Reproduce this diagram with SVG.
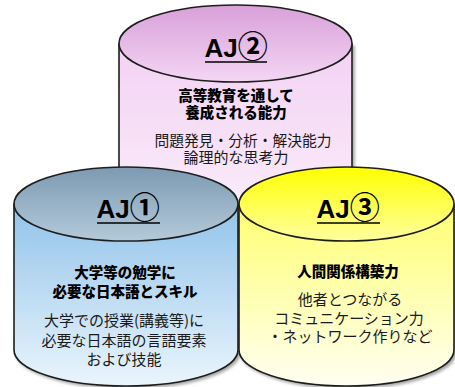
<svg xmlns="http://www.w3.org/2000/svg" width="455" height="387" viewBox="0 0 455 387">
<defs>
<linearGradient id="pinkTop" x1="0" y1="0" x2="0" y2="1"><stop offset="0" stop-color="#d8a0d8"/><stop offset="1" stop-color="#f4d6f4"/></linearGradient>
<linearGradient id="pinkBody" x1="0" y1="0" x2="0" y2="1"><stop offset="0" stop-color="#f3d2f3"/><stop offset="1" stop-color="#fbeffb"/></linearGradient>
<linearGradient id="blueTop" x1="0" y1="0" x2="0" y2="1"><stop offset="0" stop-color="#7d9ab2"/><stop offset="1" stop-color="#b4cada"/></linearGradient>
<linearGradient id="blueBody" x1="0" y1="0" x2="0" y2="1"><stop offset="0" stop-color="#92c3ea"/><stop offset="1" stop-color="#eaf5fc"/></linearGradient>
<linearGradient id="yelTop" x1="0" y1="0" x2="0" y2="1"><stop offset="0" stop-color="#ffff00"/><stop offset="1" stop-color="#ffffa0"/></linearGradient>
<linearGradient id="yelBody" x1="0" y1="0" x2="0" y2="1"><stop offset="0" stop-color="#ffff70"/><stop offset="1" stop-color="#fffff2"/></linearGradient>
<filter id="sh" x="-10%" y="-10%" width="120%" height="120%"><feDropShadow dx="2" dy="2" stdDeviation="1.5" flood-color="#000" flood-opacity="0.35"/></filter>
</defs>
<style>
.ol{stroke:#1e1e1e;stroke-width:1.6}
.aj{font-family:"Liberation Sans","Noto Sans CJK JP",sans-serif;font-weight:bold;font-size:26px;fill:#000;text-anchor:middle}
.cd{font-family:"Noto Sans CJK JP",sans-serif;font-size:30px;font-weight:bold}
.b{font-family:"Noto Sans CJK JP",sans-serif;font-weight:900;font-size:14.5px;fill:#000;text-anchor:middle}
.r{font-family:"Noto Sans CJK JP",sans-serif;font-size:15px;fill:#1a1a1a;text-anchor:middle}
.ul{stroke:#000;stroke-width:1.6}
</style>
<rect width="455" height="387" fill="#ffffff"/>
<g id="aj2">
<path class="ol" filter="url(#sh)" d="M119,43.5 L119,230 L352,230 L352,43.5" fill="url(#pinkBody)"/>
<ellipse class="ol" cx="235.5" cy="43.5" rx="116.5" ry="38.5" fill="url(#pinkTop)"/>
<text class="aj" x="236" y="57">AJ<tspan class="cd">②</tspan></text>
<line class="ul" x1="205" y1="62" x2="267" y2="62"/>
<text class="b" x="236" y="101">高等教育を通して</text>
<text class="b" x="236" y="118">養成される能力</text>
<text class="r" x="243" y="146" textLength="177" lengthAdjust="spacingAndGlyphs">問題発見・分析・解決能力</text>
<text class="r" x="236" y="163">論理的な思考力</text>
</g>
<g id="aj1">
<path class="ol" filter="url(#sh)" d="M14,204 L14,350 A112,36 0 0 0 238,350 L238,204 Z" fill="url(#blueBody)"/>
<ellipse class="ol" cx="126" cy="204" rx="112" ry="37" fill="url(#blueTop)"/>
<text class="aj" x="128" y="218">AJ<tspan class="cd">①</tspan></text>
<line class="ul" x1="97" y1="223" x2="160" y2="223"/>
<text class="b" x="125" y="278">大学等の勉学に</text>
<text class="b" x="125" y="297">必要な日本語とスキル</text>
<text class="r" x="124" y="326">大学での授業(講義等)に</text>
<text class="r" x="124" y="346">必要な日本語の言語要素</text>
<text class="r" x="124" y="365">および技能</text>
</g>
<g id="aj3">
<path class="ol" filter="url(#sh)" d="M239,204 L239,350 A107.5,36 0 0 0 454,350 L454,204 Z" fill="url(#yelBody)"/>
<ellipse class="ol" cx="346.5" cy="204" rx="107.5" ry="37" fill="url(#yelTop)"/>
<text class="aj" x="348" y="218">AJ<tspan class="cd">③</tspan></text>
<line class="ul" x1="317" y1="223" x2="380" y2="223"/>
<text class="b" x="348" y="277">人間関係構築力</text>
<text class="r" x="350" y="305">他者とつながる</text>
<text class="r" x="349" y="324">コミュニケーション力</text>
<text class="r" x="350" y="342">・ネットワーク作りなど</text>
</g>
<g id="connectors"/>
</svg>
